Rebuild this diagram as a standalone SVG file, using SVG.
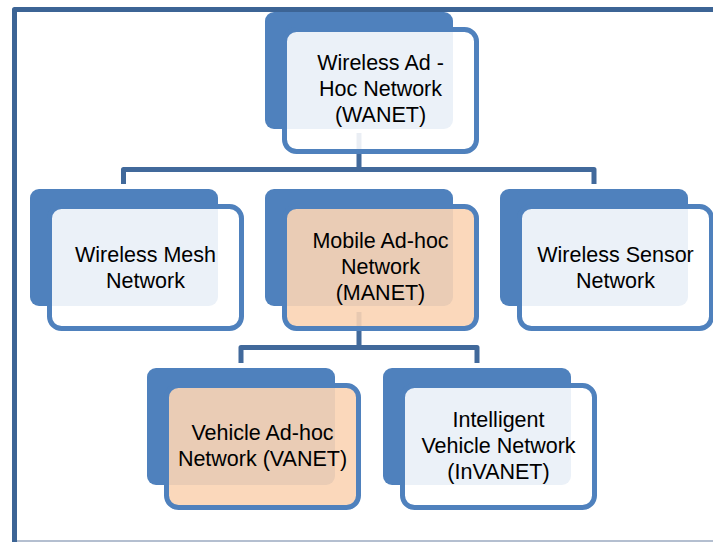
<svg xmlns="http://www.w3.org/2000/svg" width="713" height="542" viewBox="0 0 713 542">
  <style>
    .back { fill: #4f81bd; }
    .front { stroke: #4f81bd; stroke-width: 5; }
    .blue { fill: #ffffff; fill-opacity: 0.89; }
    .peach { fill: #fbd4b4; fill-opacity: 0.9; }
    .lbl { font-family: "Liberation Sans", Arial, sans-serif; font-size: 21.5px; fill: #000000; text-anchor: middle; }
    .conn { fill: none; stroke: #41699b; stroke-width: 5; stroke-linejoin: round; }
  </style>
  <rect x="0" y="0" width="713" height="542" fill="#ffffff"/>
  <g id="frame">
    <line x1="17" y1="541" x2="713" y2="541" stroke="#b4bfd0" stroke-width="2"/>
    <path d="M14.5 545 V9.5 H720" fill="none" stroke="#3c6495" stroke-width="5" stroke-linejoin="round"/>
  </g>
  <g id="connectors">
    <path class="conn" d="M359 133 V169.5 M123.5 184 V169.5 H594 V184"/>
    <path class="conn" d="M359 312 V347.5 M241 363 V347.5 H477 V363"/>
  </g>
  <g id="wanet">
    <rect class="back" x="265" y="12" width="188" height="117" rx="9"/>
    <rect class="front blue" x="284.5" y="29.5" width="192" height="122" rx="12"/>
    <text class="lbl" x="380.5" y="70">Wireless Ad -</text>
    <text class="lbl" x="380.5" y="96">Hoc Network</text>
    <text class="lbl" x="380.5" y="122">(WANET)</text>
  </g>
  <g id="wmn">
    <rect class="back" x="30" y="189" width="188" height="117" rx="9"/>
    <rect class="front blue" x="49.5" y="206.5" width="192" height="122" rx="12"/>
    <text class="lbl" x="145.5" y="262">Wireless Mesh</text>
    <text class="lbl" x="145.5" y="288">Network</text>
  </g>
  <g id="manet">
    <rect class="back" x="265" y="189" width="188" height="117" rx="9"/>
    <rect class="front peach" x="284.5" y="206.5" width="192" height="122" rx="12"/>
    <text class="lbl" x="380.5" y="248">Mobile Ad-hoc</text>
    <text class="lbl" x="380.5" y="274">Network</text>
    <text class="lbl" x="380.5" y="300">(MANET)</text>
  </g>
  <g id="wsn">
    <rect class="back" x="500" y="189" width="188" height="117" rx="9"/>
    <rect class="front blue" x="519.5" y="206.5" width="192" height="122" rx="12"/>
    <text class="lbl" x="615.5" y="262">Wireless Sensor</text>
    <text class="lbl" x="615.5" y="288">Network</text>
  </g>
  <g id="vanet">
    <rect class="back" x="147" y="368" width="188" height="117" rx="9"/>
    <rect class="front peach" x="166.5" y="385.5" width="192" height="122" rx="12"/>
    <text class="lbl" x="262.5" y="440">Vehicle Ad-hoc</text>
    <text class="lbl" x="262.5" y="466">Network (VANET)</text>
  </g>
  <g id="invanet">
    <rect class="back" x="383" y="368" width="188" height="117" rx="9"/>
    <rect class="front blue" x="402.5" y="385.5" width="192" height="122" rx="12"/>
    <text class="lbl" x="498.5" y="427">Intelligent</text>
    <text class="lbl" x="498.5" y="453">Vehicle Network</text>
    <text class="lbl" x="498.5" y="479">(InVANET)</text>
  </g>
</svg>
